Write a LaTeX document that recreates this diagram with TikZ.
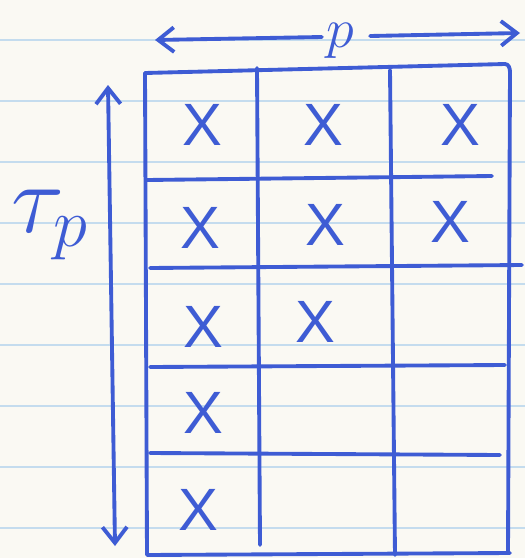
\RequirePackage{fix-cm}
\documentclass[tikz,border=0pt]{standalone}
\usepackage{fontspec}
\setsansfont{Liberation Sans}
\usepackage{xcolor}
\usepackage{tikz}
\usetikzlibrary{arrows.meta}

\definecolor{ink}{RGB}{62,92,212}
\definecolor{paper}{RGB}{250,249,243}
\definecolor{rule}{RGB}{196,220,238}

\tikzset{
  pen/.style={draw=ink, line width=2.2pt, line cap=round, line join=round},
  cross/.style={text=ink, font=\sffamily\fontsize{34}{34}\selectfont, inner sep=0pt},
  barb/.style={-{Straight Barb[length=9pt, width=14pt, line width=2.2pt]}},
  barbs/.style={{Straight Barb[length=9pt, width=14pt, line width=2.2pt]}-{Straight Barb[length=9pt, width=14pt, line width=2.2pt]}}
}

\begin{document}
\begin{tikzpicture}[x=0.02cm, y=-0.02cm]
  % paper and ruled lines
  \fill[paper] (0,0) rectangle (525,558);
  \useasboundingbox (0,0) rectangle (525,558);
  \foreach \ry in {40,101,162,223,284,345,406,467,528}
    \draw[rule, line width=1pt] (0,\ry) -- (525,\ry);

  % the grid: 5 rows, 3 columns
  \draw[pen] (145,73) -- (147,555) -- (510,553);
  \draw[pen] (145,73) -- (505,64) to[out=0, in=90] (510,72) -- (508,553);
  \draw[pen] (257,68) -- (260,545);
  \draw[pen] (390,70) -- (395,555);
  \draw[pen] (147,180) -- (492,176);
  \draw[pen] (150,268) -- (522,265);
  \draw[pen] (150,367) -- (505,365);
  \draw[pen] (150,453) -- (500,455);

  % entries
  \node[cross] (x11) at (202,125) {X};
  \node[cross] (x12) at (323,125) {X};
  \node[cross] (x13) at (460,125) {X};
  \node[cross] (x21) at (200,228) {X};
  \node[cross] (x22) at (325,225) {X};
  \node[cross] (x23) at (450,222) {X};
  \node[cross] (x31) at (203,327) {X};
  \node[cross] (x32) at (315,322) {X};
  \node[cross] (x41) at (203,413) {X};
  \node[cross] (x51) at (198,510) {X};

  % width p along the top
  \node[text=ink, font=\fontsize{32}{32}\selectfont, inner sep=0pt] (p) at (340,41) {$p$};
  \coordinate (pleft) at (155,40);
  \coordinate (pright) at (520,33);
  \draw[pen, barb] (p.west) ++(-4,-4) -- (pleft);
  \draw[pen, barb] (p.east) ++(16,-5) -- (pright);

  % height tau_p down the side
  \node[text=ink, font=\fontsize{56}{56}\selectfont, inner sep=0pt] (tau) at (50,225)
    {$\tau_{p}$};
  \coordinate (ttop) at (108,85);
  \coordinate (tbot) at (115,546);
  \draw[pen, barbs] (ttop) -- (tbot);
\end{tikzpicture}
\end{document}
